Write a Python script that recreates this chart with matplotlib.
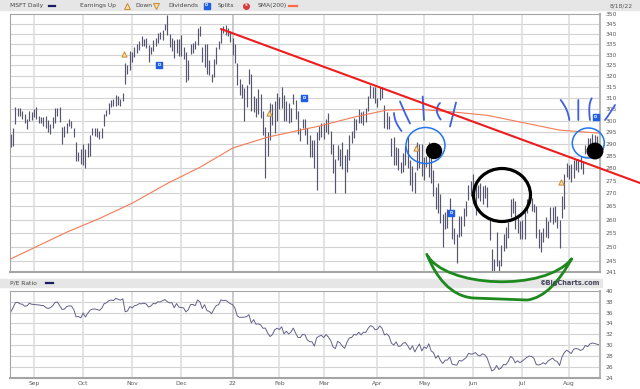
import numpy as np
import matplotlib
matplotlib.use("Agg")
import matplotlib.pyplot as plt
from matplotlib.patches import Ellipse, Rectangle, PathPatch
from matplotlib.path import Path
from matplotlib.lines import Line2D
from matplotlib.ticker import FixedLocator, FixedFormatter, NullLocator

# MSFT daily bars 8/18/21 .. 8/18/22, one line per month
highs = [
    294.2, 297.0, 305.8, 305.4, 305.6, 304.4, 302.8, 300.6, 304.0, 303.6,
    305.2, 305.8, 302.0, 301.6, 301.4, 302.1, 300.3, 298.5, 301.4, 305.3, 305.3, 305.8, 297.3, 297.5, 299.0, 300.9, 300.0, 296.7, 290.8, 286.8, 287.8,
    289.9, 287.8, 290.4, 293.6, 296.6, 296.6, 297.0, 295.6, 297.0, 303.0, 304.5, 307.6, 309.1, 309.5, 311.1, 311.0, 309.5, 312.4, 326.1, 325.0, 332.0,
    331.5, 333.5, 334.9, 336.5, 338.8, 337.6, 338.0, 334.6, 333.7, 337.2, 337.9, 340.7, 340.8, 342.2, 345.1, 349.7, 339.8, 338.2, 337.0, 337.5, 337.7,
    339.3, 333.9, 331.2, 327.4, 335.2, 335.5, 336.5, 343.0, 343.8, 333.9, 335.2, 335.2, 327.6, 321.1, 328.0, 333.6, 336.4, 342.5, 343.8, 344.3, 343.1, 341.4,
    338.0, 335.2, 326.1, 318.7, 316.5, 314.7, 316.0, 323.4, 320.9, 310.8, 309.8, 313.9, 311.7, 304.1, 297.1, 295.0, 307.9, 307.4, 308.5, 312.4,
    310.6, 315.1, 311.2, 308.8, 307.8, 305.6, 311.9, 309.1, 304.3, 296.8, 300.8, 300.9, 296.8, 293.9, 291.5, 291.7, 295.2, 297.6, 299.1,
    299.1, 300.6, 303.1, 295.7, 290.0, 283.9, 289.7, 288.0, 291.0, 285.4, 287.8, 294.0, 295.6, 301.0, 300.7, 305.0, 303.8, 304.2, 305.5, 310.8, 316.0, 315.1, 315.1,
    310.1, 315.1, 314.9, 307.0, 303.7, 302.0, 292.6, 292.8, 288.6, 288.3, 282.5, 286.2, 289.3, 293.3, 283.2, 281.1, 278.4, 291.0, 290.0, 289.9,
    284.7, 284.9, 290.9, 286.4, 279.3, 272.4, 274.0, 269.9, 261.9, 263.0, 264.1, 268.3, 263.6, 257.0, 254.5, 261.5, 261.4, 264.5, 267.1, 273.3, 274.8,
    277.7, 274.7, 273.5, 274.2, 273.0, 273.5, 272.7, 260.6, 249.0, 245.7, 255.3, 245.1, 250.5, 254.7, 257.2, 259.0, 267.9, 268.3, 266.9, 262.0, 259.4,
    260.0, 263.0, 268.0, 269.1, 268.2, 265.9, 265.0, 256.3, 255.3, 256.9, 260.8, 259.6, 264.9, 264.9, 265.3, 261.5, 259.9, 269.0, 277.8, 282.0,
    281.3, 281.6, 283.5, 283.9, 283.7, 285.2, 283.0, 289.8, 292.4, 292.4, 294.2, 294.0, 293.3, 291.9,
]
lows = [
    288.9, 289.3, 298.7, 301.9, 301.8, 300.5, 298.9, 296.5, 300.0, 300.4,
    301.5, 300.7, 298.9, 298.8, 297.5, 297.0, 295.1, 294.1, 297.0, 299.1, 301.8, 299.6, 289.9, 293.0, 294.6, 297.5, 296.9, 292.8, 282.8, 283.0, 281.6,
    281.3, 280.3, 284.8, 285.1, 293.6, 293.2, 292.8, 292.2, 292.4, 297.8, 301.8, 303.0, 306.0, 306.5, 306.5, 306.7, 306.5, 308.6, 316.2, 320.7, 323.0,
    326.4, 329.0, 330.7, 332.2, 334.4, 334.2, 333.1, 326.4, 330.5, 331.6, 334.0, 335.5, 337.4, 337.2, 342.2, 339.5, 333.6, 332.0, 328.5, 330.6, 329.4,
    329.4, 327.8, 317.4, 318.0, 330.5, 330.8, 332.6, 334.8, 339.1, 326.7, 324.1, 320.8, 320.4, 317.0, 319.5, 325.8, 332.7, 335.4, 340.3, 339.7, 338.8, 335.9,
    329.8, 326.1, 316.0, 311.5, 310.1, 300.0, 306.0, 316.2, 304.1, 303.8, 301.7, 302.7, 301.1, 294.0, 276.1, 285.2, 291.9, 297.9, 294.7, 299.9,
    305.2, 305.6, 300.0, 300.0, 299.0, 299.5, 307.4, 300.7, 294.2, 291.4, 297.0, 293.7, 290.0, 284.5, 284.5, 280.1, 271.5, 291.6, 293.0,
    292.2, 295.1, 294.1, 286.0, 278.0, 270.0, 283.2, 280.8, 279.8, 270.0, 278.7, 283.4, 290.4, 292.7, 296.0, 298.8, 299.0, 298.3, 299.3, 304.3, 309.8, 310.1, 307.9,
    305.8, 309.1, 309.9, 296.7, 296.4, 296.2, 285.2, 281.4, 281.3, 279.2, 278.3, 278.4, 281.5, 280.1, 273.4, 270.8, 270.0, 279.2, 280.0, 276.8,
    275.4, 280.5, 276.5, 274.3, 268.9, 263.9, 262.4, 258.6, 250.0, 256.4, 257.0, 262.2, 252.8, 251.0, 244.0, 253.4, 253.8, 257.6, 261.4, 267.6, 268.9,
    270.0, 261.6, 268.4, 267.2, 265.9, 268.4, 264.6, 252.5, 241.5, 241.5, 243.0, 241.5, 243.0, 248.6, 249.5, 253.0, 261.0, 262.4, 256.3, 254.8, 252.8,
    252.8, 252.7, 262.4, 265.7, 263.3, 263.0, 253.1, 249.6, 247.9, 251.7, 253.6, 253.0, 258.9, 258.2, 259.1, 256.8, 249.6, 260.5, 264.0, 276.6,
    275.8, 274.4, 275.9, 279.2, 278.5, 279.8, 277.6, 286.0, 286.3, 286.3, 290.0, 290.4, 289.1, 289.1,
]
closes = [
    290.7, 296.8, 304.4, 304.7, 302.6, 302.0, 299.1, 299.7, 303.6, 301.9,
    301.8, 301.2, 301.1, 300.2, 300.2, 297.3, 295.7, 297.0, 299.8, 304.8, 305.2, 299.9, 294.3, 294.8, 298.6, 299.6, 299.4, 294.2, 283.5, 284.0, 281.9,
    289.1, 283.1, 288.8, 293.1, 294.9, 294.9, 294.2, 292.9, 296.3, 302.8, 304.2, 307.3, 308.2, 307.4, 310.8, 309.2, 308.1, 310.1, 323.2, 324.4, 331.6,
    329.4, 333.1, 334.0, 336.4, 336.1, 337.0, 335.9, 330.8, 332.4, 336.7, 336.1, 339.5, 339.1, 341.3, 343.1, 339.8, 337.7, 337.9, 329.7, 336.6, 330.6,
    330.1, 329.5, 323.0, 326.2, 334.9, 335.0, 333.1, 342.5, 339.4, 328.3, 334.7, 324.9, 323.8, 319.9, 327.3, 333.2, 334.7, 342.5, 341.3, 342.0, 339.3, 336.3,
    334.8, 329.0, 316.4, 313.9, 314.0, 314.3, 315.0, 318.3, 304.8, 310.2, 302.7, 303.3, 301.6, 296.0, 296.4, 288.5, 296.7, 299.8, 308.3, 311.0,
    308.8, 313.5, 301.3, 305.9, 301.0, 304.6, 311.2, 302.4, 295.0, 295.0, 300.5, 299.5, 290.7, 287.9, 287.7, 280.3, 294.6, 297.3, 298.8,
    295.0, 300.2, 295.9, 289.9, 278.9, 275.9, 288.5, 285.6, 280.1, 276.4, 287.2, 294.4, 295.2, 300.4, 299.2, 304.1, 299.5, 304.1, 303.7, 310.7, 315.4, 313.9, 308.3,
    309.4, 315.0, 310.9, 299.5, 301.4, 297.0, 285.3, 282.1, 287.6, 279.8, 280.5, 285.3, 286.4, 280.8, 274.0, 280.7, 270.2, 283.2, 289.6, 277.5,
    284.5, 281.8, 290.0, 277.4, 274.7, 264.6, 269.5, 260.6, 255.4, 261.1, 261.5, 266.8, 254.1, 253.1, 252.6, 260.7, 259.6, 262.5, 265.9, 273.2, 271.9,
    272.4, 274.6, 270.0, 268.8, 272.5, 270.4, 264.8, 253.0, 242.3, 244.5, 251.8, 245.0, 247.7, 253.7, 253.1, 258.9, 267.7, 264.9, 256.5, 260.3, 256.8,
    259.6, 262.9, 266.2, 268.4, 267.7, 264.5, 253.7, 252.7, 254.1, 256.7, 254.3, 259.5, 262.3, 264.8, 260.4, 258.8, 251.9, 268.7, 276.4, 280.7,
    278.0, 274.8, 282.5, 283.7, 282.9, 280.3, 282.3, 289.2, 287.0, 291.9, 293.5, 292.7, 291.3, 290.2,
]

month_labels = ['Sep', 'Oct', 'Nov', 'Dec', '22', 'Feb', 'Mar', 'Apr', 'May', 'Jun', 'Jul', 'Aug']
month_start = [10, 31, 52, 73, 95, 115, 134, 157, 177, 198, 219, 239]   # bar index of 1st trading day

# SMA(200)
sma_idx = [0, 24, 38, 52, 67, 81, 95, 110, 124, 132, 147, 161, 175, 189, 204, 218, 235, 252]
sma_val = [245.6, 255.3, 260.4, 266.2, 273.9, 280.4, 288.3, 292.9, 295.9, 297.6,
           301.5, 304.6, 304.9, 303.8, 302.3, 299.4, 295.9, 294.6]

earn_idx = [48, 110, 173, 235]
earn_px = [330.3, 303.2, 288.2, 274.4]
div_idx = [64, 126, 189, 251]
div_px = [325.0, 309.9, 262.6, 301.4]

# trailing EPS, step changes after each report
eps_from = [0, 49, 111, 174, 236]
ttm_eps = [8.05, 8.94, 9.39, 9.58, 9.65]

price_ticks = [350, 345, 340, 335, 330, 325, 320, 315, 310, 305, 300, 295, 290,
               285, 280, 275, 270, 265, 260, 255, 250, 245, 241]
pe_ticks = [40, 38, 36, 34, 32, 30, 28, 26, 24]

W, H = 640, 389
TXT = '#5a5a5a'
FS = 4.3


def fp(x, y):
    return x / W, 1 - y / H


fig = plt.figure(figsize=(6.4, 3.89), dpi=100)
fig.patch.set_facecolor('white')

idx = np.arange(len(closes))
eps = np.array(ttm_eps)[np.searchsorted(eps_from, idx, side='right') - 1]
pe = np.array(closes) / eps

# ---- price panel
ax = fig.add_axes([10 / W, 1 - 272 / H, 590 / W, 258 / H])
ax.set_yscale('log')
ax.set_ylim(241, 350)
ax.set_xlim(-0.3, 252.3)
for v in price_ticks[1:-1]:
    ax.axhline(v, color='#d2d2d2', lw=0.8, zorder=0)
for m in month_start:
    ax.axvline(m, color='#bcbcbc' if m == 95 else '#dcdcdc', lw=1.1, zorder=0)

ax.vlines(idx, lows, highs, color='#56566e', lw=0.85, zorder=2)
ax.plot(sma_idx, sma_val, color='#f47a55', lw=0.8, zorder=3)

ax.scatter(np.array(earn_idx) + 0.5, earn_px, marker='^', s=14, facecolor='#f6dfb3',
           edgecolor='#c88a30', lw=0.7, zorder=4)
ax.scatter(np.array(div_idx) - 0.5, div_px, marker='s', s=14, color='#1f5fe6', zorder=4)
for i, p in zip(div_idx, div_px):
    ax.text(i - 0.5, p, 'D', color='white', fontsize=3, fontweight='bold',
            ha='center', va='center', zorder=5)

ax.yaxis.set_major_locator(FixedLocator(price_ticks))
ax.yaxis.set_major_formatter(FixedFormatter([str(t) for t in price_ticks]))
ax.yaxis.set_minor_locator(NullLocator())
ax.yaxis.tick_right()
ax.tick_params(axis='y', length=0, labelsize=FS, labelcolor=TXT, pad=4)
ax.set_xticks([])

# ---- P/E panel
ax2 = fig.add_axes([10 / W, 1 - 378 / H, 590 / W, 87.3 / H])
ax2.set_ylim(24, 40)
ax2.set_xlim(-0.3, 252.3)
for v in pe_ticks[1:-1]:
    ax2.axhline(v, color='#d2d2d2', lw=0.8, zorder=0)
for m in month_start:
    ax2.axvline(m, color='#bcbcbc' if m == 95 else '#dcdcdc', lw=1.1, zorder=0)
ax2.plot(idx, pe, color='#62628a', lw=0.7)
ax2.set_yticks(pe_ticks)
ax2.yaxis.tick_right()
ax2.set_xticks(month_start)
ax2.set_xticklabels(month_labels)
ax2.tick_params(length=0, labelsize=FS, labelcolor=TXT)
ax2.tick_params(axis='y', pad=4)
ax2.tick_params(axis='x', pad=2)

for a in (ax, ax2):
    for s in a.spines.values():
        s.set_color('#a5a5a5')
        s.set_linewidth(0.8)
    a.spines['right'].set_linewidth(1.5)
    a.spines['right'].set_color('#b8b8b8')
    a.spines['bottom'].set_linewidth(1.5)

# ---- header and label bands
fig.add_artist(Rectangle(fp(0, 10), 1, 10 / H, transform=fig.transFigure,
                         color='#e6e6e6', zorder=0))
fig.add_artist(Rectangle(fp(0, 287.3), 602 / W, 8 / H, transform=fig.transFigure,
                         color='#e6e6e6', zorder=0))

hy = 5.5
fig.text(*fp(10, hy), 'MSFT Daily', fontsize=FS, color='#444444', va='center')
fig.add_artist(Line2D([49 / W, 55 / W], [fp(0, hy)[1]] * 2, color='#1c1c60', lw=1.6))
fig.text(*fp(80, hy), 'Earnings Up', fontsize=FS, color='#444444', va='center')
fig.add_artist(Line2D([126.5 / W], [fp(0, hy)[1]], marker='^', ms=4, mfc='#f6dfb3',
                      mec='#c88a30', mew=0.7))
fig.text(*fp(135, hy), 'Down', fontsize=FS, color='#444444', va='center')
fig.add_artist(Line2D([155.5 / W], [fp(0, hy)[1]], marker='v', ms=4, mfc='#f6dfb3',
                      mec='#c88a30', mew=0.7))
fig.text(*fp(168, hy), 'Dividends', fontsize=FS, color='#444444', va='center')
fig.add_artist(Line2D([206.5 / W], [fp(0, hy)[1]], marker='s', ms=3.8, color='#1f5fe6'))
fig.text(*fp(206.5, hy), 'D', fontsize=2.8, color='white', fontweight='bold',
         ha='center', va='center')
fig.text(*fp(218, hy), 'Splits', fontsize=FS, color='#444444', va='center')
fig.add_artist(Line2D([246 / W], [fp(0, hy)[1]], marker='o', ms=4, color='#d83a3a'))
fig.text(*fp(246, hy), 'S', fontsize=2.8, color='white', fontweight='bold',
         ha='center', va='center')
fig.text(*fp(258, hy), 'SMA(200)', fontsize=FS, color='#444444', va='center')
fig.add_artist(Line2D([289 / W, 296.5 / W], [fp(0, hy)[1]] * 2, color='#ff6a45', lw=1.6))
fig.text(*fp(633, hy), '8/18/22', fontsize=FS, color='#555555', va='center', ha='right')

py = 283.3
fig.text(*fp(10, py), 'P/E Ratio', fontsize=FS, color='#444444', va='center')
fig.add_artist(Line2D([46 / W, 53 / W], [fp(0, py)[1]] * 2, color='#1c1c60', lw=1.6))
fig.text(*fp(600, 282.6), '\u00a9BigCharts.com', fontsize=4.8, color='#45455c',
         fontweight='bold', va='center', ha='right')

# ---- hand-drawn markup (image pixel coords)
fig.add_artist(Line2D([221 / W, 640 / W], [fp(0, 29)[1], fp(0, 183)[1]],
                      color='#ee1c1c', lw=1.5, solid_capstyle='round'))


def stroke(pts, color, lw):
    p0, p1, p2 = [np.array(fp(*q)) for q in pts]
    c = 2 * p1 - (p0 + p2) / 2
    path = Path([p0, c, p2], [Path.MOVETO, Path.CURVE3, Path.CURVE3])
    fig.add_artist(PathPatch(path, transform=fig.transFigure, fill=False,
                             edgecolor=color, lw=lw, capstyle='round'))


lashes = [
    [(394, 113), (396, 122), (401.5, 131)],
    [(400, 101.5), (405, 113), (410, 123.5)],
    [(422.7, 96.5), (423.3, 108), (424, 120)],
    [(440, 103), (436.7, 110.5), (440.7, 119.5)],
    [(456, 102.5), (453.3, 113.5), (450, 126.5)],
    [(560.7, 100), (566.7, 110), (569.3, 120)],
    [(578.3, 100), (578.3, 110), (578.3, 120)],
    [(591.7, 98.3), (589.3, 107), (590, 120)],
    [(615, 105), (610, 113), (605, 120)],
]
for l in lashes:
    stroke(l, '#3d5fe2', 1.3)

for cx, cy, w, h in [(425.5, 145.5, 39, 36), (588.3, 143, 32, 30)]:
    fig.add_artist(Ellipse(fp(cx, cy), w / W, h / H, transform=fig.transFigure,
                           fill=False, edgecolor='#2275ee', lw=1.1))
for cx, cy, d in [(434, 151, 15), (595, 151, 15.5)]:
    fig.add_artist(Ellipse(fp(cx, cy), d / W, d / H, transform=fig.transFigure,
                           color='black'))
fig.add_artist(Ellipse(fp(502, 195), 57 / W, 53 / H, transform=fig.transFigure,
                       fill=False, edgecolor='black', lw=2.3))

smile_v = [(426.7, 254.3), (445, 288), (545, 292), (571.5, 259),
           (428, 257), (436, 276), (450, 296), (473, 298),
           (527, 300), (545, 298), (560, 280), (571.5, 259)]
smile_c = [Path.MOVETO, Path.CURVE4, Path.CURVE4, Path.CURVE4,
           Path.MOVETO, Path.CURVE4, Path.CURVE4, Path.CURVE4,
           Path.LINETO, Path.CURVE4, Path.CURVE4, Path.CURVE4]
fig.add_artist(PathPatch(Path([fp(*q) for q in smile_v], smile_c), transform=fig.transFigure,
                         fill=False, edgecolor='#1e8a1e', lw=2.0, capstyle='round'))

fig.savefig('out.png', dpi=100)
